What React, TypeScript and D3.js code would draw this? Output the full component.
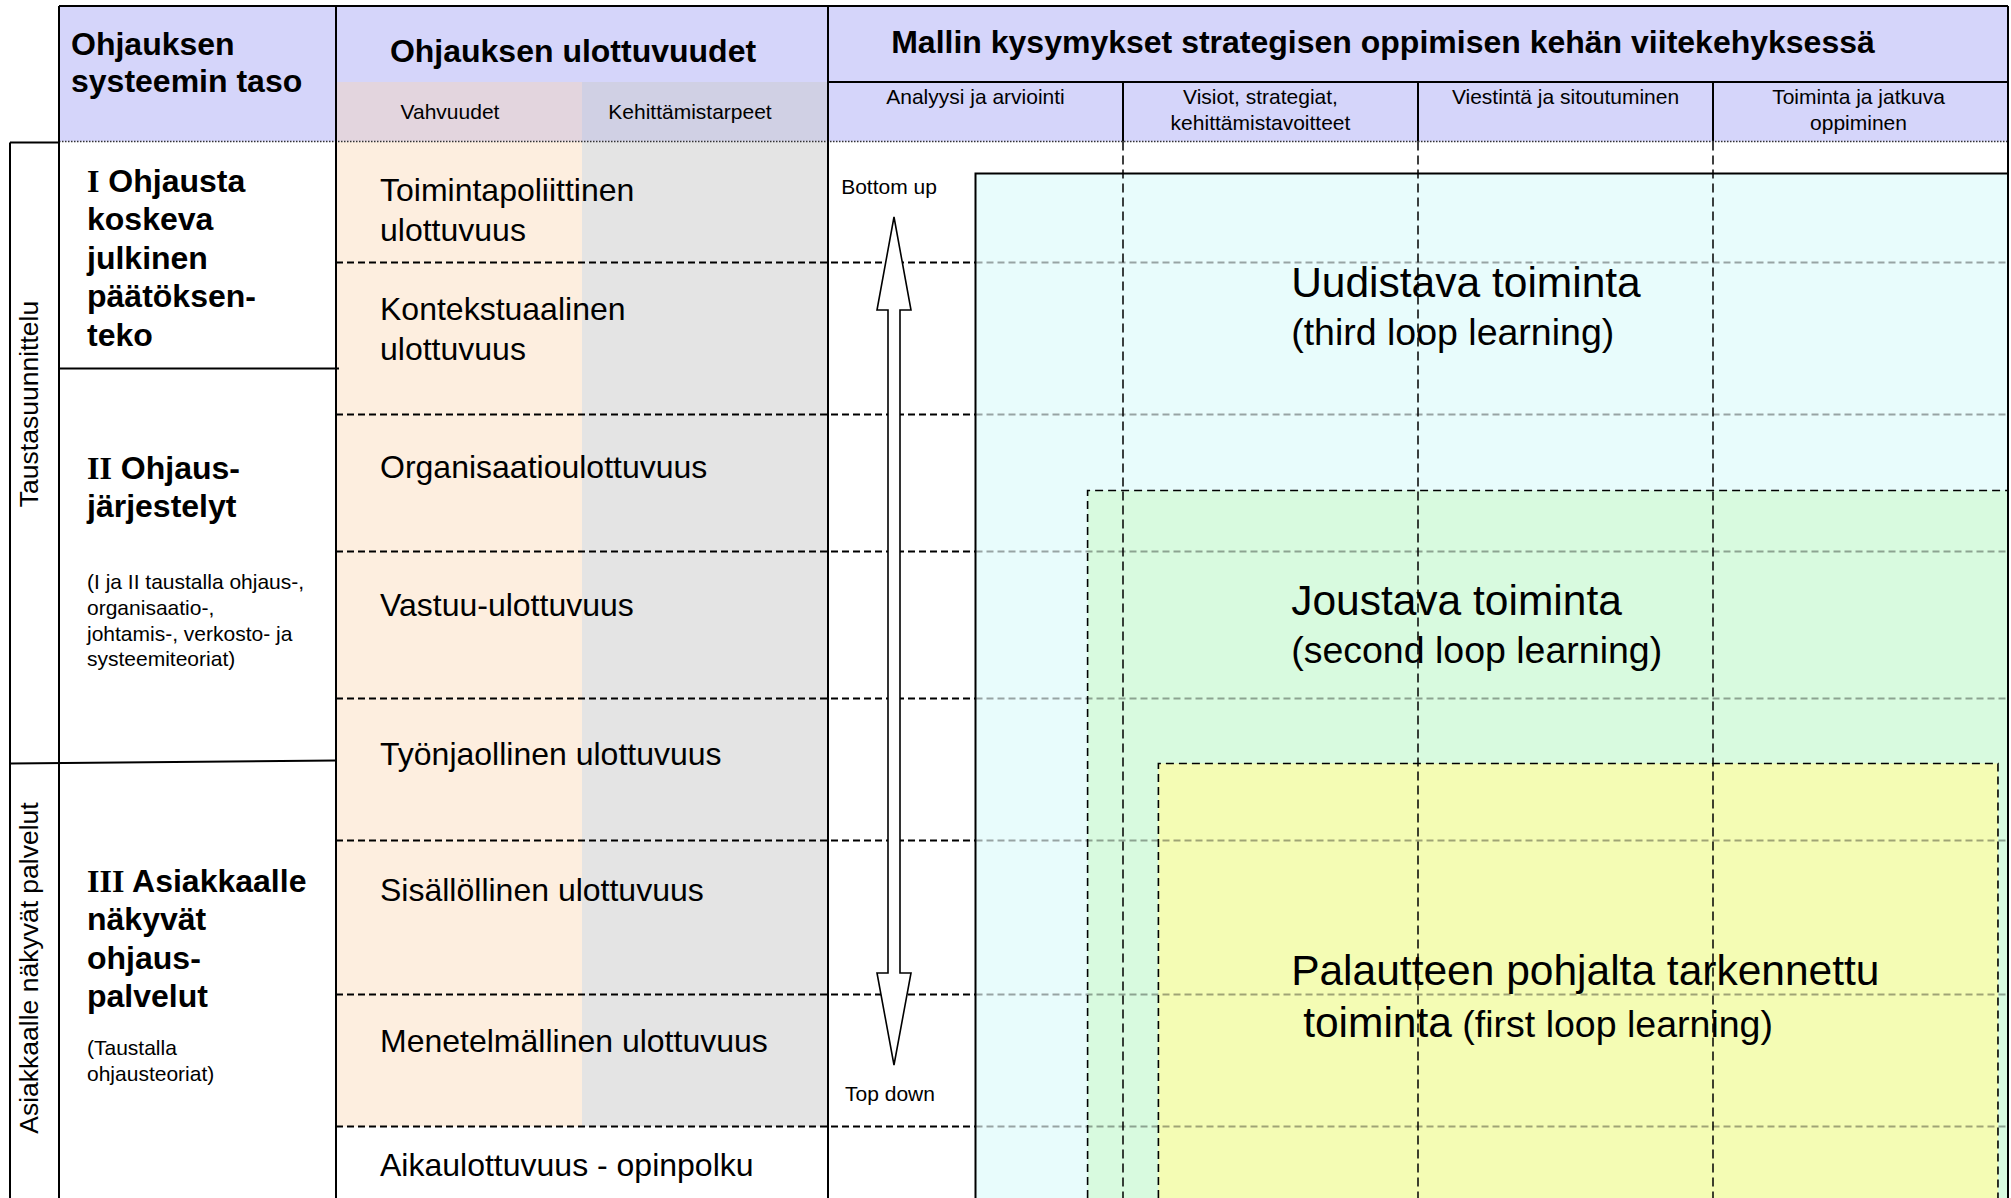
import React from "react";
import * as d3 from "d3";

// ---- chart content ----
const levelHeader = ["Ohjauksen", "systeemin taso"];
const dimensionHeader = "Ohjauksen ulottuvuudet";
const dimensionSubHeaders = ["Vahvuudet", "Kehittämistarpeet"];
const questionHeader = "Mallin kysymykset strategisen oppimisen kehän viitekehyksessä";
const questionColumns = [
  ["Analyysi ja arviointi"],
  ["Visiot, strategiat,", "kehittämistavoitteet"],
  ["Viestintä ja sitoutuminen"],
  ["Toiminta ja jatkuva", "oppiminen"],
];

const dimensions = [
  ["Toimintapoliittinen", "ulottuvuus"],
  ["Kontekstuaalinen", "ulottuvuus"],
  ["Organisaatioulottuvuus"],
  ["Vastuu-ulottuvuus"],
  ["Työnjaollinen ulottuvuus"],
  ["Sisällöllinen ulottuvuus"],
  ["Menetelmällinen ulottuvuus"],
  ["Aikaulottuvuus - opinpolku"],
];
// relative row heights (row units)
const dimensionWeights = [1.21, 1.52, 1.37, 1.47, 1.42, 1.54, 1.32, 1.05];
const dimensionShaded = [true, true, true, true, true, true, true, false];

const levelNumerals = ["I", "II", "III"];
const levelTitles = [
  ["Ohjausta", "koskeva", "julkinen", "päätöksen-", "teko"],
  ["Ohjaus-", "järjestelyt"],
  ["Asiakkaalle", "näkyvät", "ohjaus-", "palvelut"],
];
const levelNotes = [
  [],
  ["(I ja II taustalla ohjaus-,", "organisaatio-,", "johtamis-, verkosto- ja", "systeemiteoriat)"],
  ["(Taustalla", "ohjausteoriat)"],
];
const levelEnds = [2.27, 6.2]; // in row units

const planningGroups = ["Taustasuunnittelu", "Asiakkaalle näkyvät palvelut"];

const loopTitles = [["Uudistava toiminta"], ["Joustava toiminta"], ["Palautteen pohjalta tarkennettu", "toiminta"]];
const loopSubtitles = ["(third loop learning)", "(second loop learning)", "(first loop learning)"];
const loopStartCol = [0.5, 0.88, 1.12];
const loopEndCol = [4, 4, 3.966];
const loopStartRow = [0.32, 3.49, 6.22];
const loopLabelRow = [1.405, 4.585, 8.285];

const flowLabels = ["Bottom up", "Top down"];

// ---- styles ----
const SANS = "'Liberation Sans', Arial, sans-serif";
const SERIF = "'Liberation Serif', 'Times New Roman', serif";
const HEAD_BG = "#d5d5fa";
const SUB_BG = ["#e3d5de", "#d0d0e4"];
const BODY_BG = ["#fdeedf", "#e4e4e4"];
const LOOP_BG = ["#e8fcfc", "#d8fadf", "#f4fcb4"];

const W = 2011;
const H = 1198;

export default function App() {
  const top = 6;
  const headMid = 82;
  const bodyTop = 141.5;
  const xLabel = 10;
  const xLevel = 59;
  const xDim = 336;
  const xQ = 828;
  const xRight = 2008;

  const total = d3.sum(dimensionWeights);
  const y = d3.scaleLinear().domain([0, total]).range([bodyTop, bodyTop + total * 100]);
  const bounds = [0, ...Array.from(d3.cumsum(dimensionWeights))];
  const xs = d3.scaleBand().domain(dimensionSubHeaders).range([xDim, xQ]);
  const xc = d3.scaleLinear().domain([0, questionColumns.length]).range([xQ, xRight]);

  const levelTop = [0, ...levelEnds];
  const titleOffset = [39, 99, 119];
  const noteGap = [0, 76, 52];
  const labelOffset = [48.5, 46.5, 52.5, 53.5, 55.5, 49.5, 46.5, 38.5];
  const qHeadShift = [0, -10, 0, -2];

  const arrowX = xc(0) + 66;
  const tipTop = 217, headTop = 310, headBot = 973, tipBot = 1065;
  const arrow = d3.path();
  arrow.moveTo(arrowX, tipTop);
  arrow.lineTo(arrowX + 17, headTop);
  arrow.lineTo(arrowX + 6, headTop);
  arrow.lineTo(arrowX + 6, headBot);
  arrow.lineTo(arrowX + 17, headBot);
  arrow.lineTo(arrowX, tipBot);
  arrow.lineTo(arrowX - 17, headBot);
  arrow.lineTo(arrowX - 6, headBot);
  arrow.lineTo(arrowX - 6, headTop);
  arrow.lineTo(arrowX - 17, headTop);
  arrow.closePath();

  return (
    <div style={{ position: "absolute", left: 0, top: 0 }}>
      <svg width={W} height={H} style={{ display: "block", background: "#fff" }} fontFamily={SANS}>
        {/* header backgrounds */}
        <rect x={xLevel} y={top} width={xRight - xLevel} height={bodyTop - top} fill={HEAD_BG} />
        {dimensionSubHeaders.map((s, i) => (
          <rect key={s} x={xs(s)} y={headMid} width={xs.bandwidth()} height={bodyTop - headMid} fill={SUB_BG[i]} />
        ))}

        {/* dimension column shading */}
        {dimensions.map((d, i) =>
          dimensionShaded[i]
            ? dimensionSubHeaders.map((s, j) => (
                <rect key={i + s} x={xs(s)} y={y(bounds[i])} width={xs.bandwidth()} height={y(bounds[i + 1]) - y(bounds[i])} fill={BODY_BG[j]} />
              ))
            : null
        )}

        {/* learning loops */}
        {loopTitles.map((t, i) => (
          <rect key={"loop" + i} x={xc(loopStartCol[i])} y={y(loopStartRow[i])} width={xc(loopEndCol[i]) - xc(loopStartCol[i])} height={H - y(loopStartRow[i]) + 10} fill={LOOP_BG[i]} />
        ))}

        {/* row dashed lines */}
        {bounds.slice(1, dimensions.length).map((b, i) => (
          <g key={"row" + i}>
            <line x1={xDim} x2={xc(loopStartCol[0])} y1={y(b)} y2={y(b)} stroke="#000" strokeWidth={2} strokeDasharray="7 4" />
            <line x1={xc(loopStartCol[0])} x2={xRight} y1={y(b)} y2={y(b)} stroke="#000" strokeOpacity={0.35} strokeWidth={2} strokeDasharray="7 4" />
          </g>
        ))}

        {/* loop borders */}
        <path d={`M${xc(loopStartCol[0])},${H}V${y(loopStartRow[0])}H${xRight}`} fill="none" stroke="#000" strokeWidth={2} />
        {[1, 2].map((i) => (
          <path key={"lb" + i} d={`M${xc(loopStartCol[i])},${H}V${y(loopStartRow[i])}H${xc(loopEndCol[i])}V${H}`} fill="none" stroke="#000" strokeWidth={1.6} strokeDasharray="8 5" />
        ))}

        {/* question column dashed lines */}
        {d3.range(1, questionColumns.length).map((c) => (
          <line key={"qc" + c} x1={xc(c)} x2={xc(c)} y1={bodyTop} y2={H} stroke="#000" strokeWidth={1.5} strokeDasharray="9 5" />
        ))}

        {/* structure lines */}
        <line x1={xLevel} x2={xRight} y1={top} y2={top} stroke="#000" strokeWidth={2} />
        <line x1={xQ} x2={xRight} y1={headMid} y2={headMid} stroke="#000" strokeWidth={2} />
        {d3.range(1, questionColumns.length).map((c) => (
          <line key={"qh" + c} x1={xc(c)} x2={xc(c)} y1={headMid} y2={bodyTop} stroke="#000" strokeWidth={2} />
        ))}
        <line x1={xLevel} x2={xRight} y1={bodyTop} y2={bodyTop} stroke="#333" strokeWidth={1.5} strokeDasharray="1.5 1.5" />
        {[xLevel, xDim, xQ, xRight].map((x) => (
          <line key={"v" + x} x1={x} x2={x} y1={top} y2={H} stroke="#000" strokeWidth={2} />
        ))}
        <line x1={xLabel} x2={xLabel} y1={bodyTop + 1} y2={H} stroke="#000" strokeWidth={2} />
        <line x1={xLabel} x2={xLevel} y1={bodyTop + 1} y2={bodyTop + 1} stroke="#000" strokeWidth={2} />
        <line x1={xLevel} x2={xDim + 3} y1={y(levelEnds[0])} y2={y(levelEnds[0])} stroke="#000" strokeWidth={2} />
        <line x1={xLabel} x2={xDim} y1={y(levelEnds[1]) + 2} y2={y(levelEnds[1]) - 1} stroke="#000" strokeWidth={2} />

        {/* header texts */}
        <g fontWeight="bold" fontSize={32}>
          {levelHeader.map((t, i) => (
            <text key={t} x={xLevel + 12} y={43.5 + i * 37.5} dy="0.35em">{t}</text>
          ))}
          <text x={(xDim + xQ) / 2 - 9} y={51} dy="0.35em" textAnchor="middle">{dimensionHeader}</text>
          <text x={(xQ + xRight) / 2 - 35} y={42} dy="0.35em" textAnchor="middle">{questionHeader}</text>
        </g>
        <g fontSize={21}>
          {dimensionSubHeaders.map((s, i) => (
            <text key={s} x={xs(s)! + xs.bandwidth() / 2 - 9 - i * 6} y={111.5} dy="0.35em" textAnchor="middle">{s}</text>
          ))}
          {questionColumns.map((lines, c) =>
            lines.map((l, k) => (
              <text key={l} x={(xc(c) + xc(c + 1)) / 2 + qHeadShift[c]} y={96.5 + k * 26} dy="0.35em" textAnchor="middle">{l}</text>
            ))
          )}
        </g>

        {/* planning groups (rotated) */}
        {planningGroups.map((g, i) => {
          const cy = i === 0 ? 404 : 968;
          return (
            <text key={g} transform={`translate(29,${cy}) rotate(-90)`} fontSize={26.5} textAnchor="middle" dy="0.35em">{g}</text>
          );
        })}

        {/* level texts */}
        {levelNumerals.map((n, i) => {
          const t0 = y(levelTop[i]) + titleOffset[i];
          const titles = levelTitles[i];
          const noteStart = t0 + (titles.length - 1) * 38.5 + noteGap[i];
          return (
            <g key={n}>
              {titles.map((l, k) => (
                <text key={l} x={xLevel + 28} y={t0 + k * 38.5} dy="0.35em" fontSize={32} fontWeight="bold">
                  {k === 0 ? (
                    <>
                      <tspan fontFamily={SERIF}>{n}</tspan>
                      {" " + l}
                    </>
                  ) : l}
                </text>
              ))}
              {levelNotes[i].map((l, k) => (
                <text key={l} x={xLevel + 28} y={noteStart + k * 25.7} dy="0.35em" fontSize={21}>{l}</text>
              ))}
            </g>
          );
        })}

        {/* dimension labels */}
        {dimensions.map((lines, i) => {
          const c0 = y(bounds[i]) + labelOffset[i];
          return lines.map((l, k) => (
            <text key={l + k} x={xDim + 44} y={c0 + k * 39.5} dy="0.35em" fontSize={32}>{l}</text>
          ));
        })}

        {/* flow arrow */}
        <path d={arrow.toString()} fill="#fff" stroke="#000" strokeWidth={1.6} strokeLinejoin="miter" />
        <text x={arrowX - 5} y={187} dy="0.35em" fontSize={21} textAnchor="middle">{flowLabels[0]}</text>
        <text x={arrowX - 4} y={1094} dy="0.35em" fontSize={21} textAnchor="middle">{flowLabels[1]}</text>

        {/* loop labels */}
        {loopTitles.map((lines, i) => {
          const lx = xc(1.57);
          const ly = y(loopLabelRow[i]);
          if (lines.length === 1) {
            return (
              <g key={"ll" + i}>
                <text x={lx} y={ly} dy="0.35em" fontSize={42.5}>{lines[0]}</text>
                <text x={lx} y={ly + 50} dy="0.35em" fontSize={37.5}>{loopSubtitles[i]}</text>
              </g>
            );
          }
          return (
            <g key={"ll" + i}>
              <text x={lx} y={ly} dy="0.35em" fontSize={42.5}>{lines[0]}</text>
              <text x={lx + 12} y={ly + 52} dy="0.35em" fontSize={42.5}>
                {lines[1]}
                <tspan fontSize={37.5}>{" " + loopSubtitles[i]}</tspan>
              </text>
            </g>
          );
        })}
      </svg>
    </div>
  );
}
